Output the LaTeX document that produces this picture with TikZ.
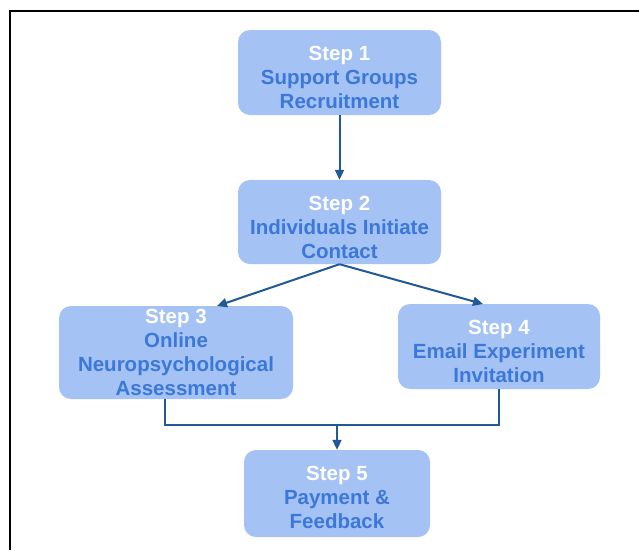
\documentclass[tikz,border=0pt]{standalone}
\usepackage{fontspec}
\setmainfont{Liberation Sans}
\usetikzlibrary{arrows.meta}
\definecolor{boxfill}{HTML}{A4C2F4}
\definecolor{boxtext}{HTML}{3C78D8}
\definecolor{linecol}{HTML}{1F5A96}
\newcommand\mystrut[1]{\rule{0pt}{#1pt}}
\begin{document}
\begin{tikzpicture}[x=1pt,y=-1pt,
  stepbox/.style={rectangle, rounded corners=12pt, fill=boxfill, draw=none,
    align=center, inner sep=0pt, text=boxtext,
    font=\fontsize{20.5}{24}\selectfont\bfseries},
  conn/.style={draw=linecol, line width=2pt},
  arr/.style={conn, -{Triangle[length=10pt,width=9pt]}}]
\useasboundingbox (0,0) rectangle (639,550);
\fill[white] (0,0) rectangle (639,550);
\draw[line width=2.8pt, black] (10,550) -- (10,11) -- (639,11);
\node[stepbox, minimum width=203pt, minimum height=85pt] (b1) at (339.5,72.5)
  {\mystrut{23.5}\textcolor{white}{Step 1}\\Support Groups\\Recruitment};
\node[stepbox, minimum width=203pt, minimum height=84pt] (b2) at (339.5,222)
  {\mystrut{24.5}\textcolor{white}{Step 2}\\Individuals Initiate\\Contact};
\node[stepbox, minimum width=234pt, minimum height=93pt] (b3) at (176,352.5)
  {\mystrut{15}\textcolor{white}{Step 3}\\Online\\Neuropsychological\\Assessment};
\node[stepbox, minimum width=202pt, minimum height=85pt] (b4) at (499,346.5)
  {\mystrut{25}\textcolor{white}{Step 4}\\Email Experiment\\Invitation};
\node[stepbox, minimum width=186pt, minimum height=87pt] (b5) at (337,493.5)
  {\mystrut{22}\textcolor{white}{Step 5}\\Payment \&\\Feedback};
\coordinate (t3) at (217,306);
\coordinate (t4) at (483,304);
\coordinate (s3) at (165,399);
\coordinate (j3) at (165,425);
\coordinate (j4) at (499,425);
\coordinate (j5) at (337,425);
\draw[arr] (b1.south) -- (b2.north);
\draw[arr] (b2.south) -- (t3);
\draw[arr] (b2.south) -- (t4);
\draw[conn] (s3) -- (j3) -- (j4) -- (b4.south);
\draw[arr] (j5) -- (b5.north);
\end{tikzpicture}
\end{document}
